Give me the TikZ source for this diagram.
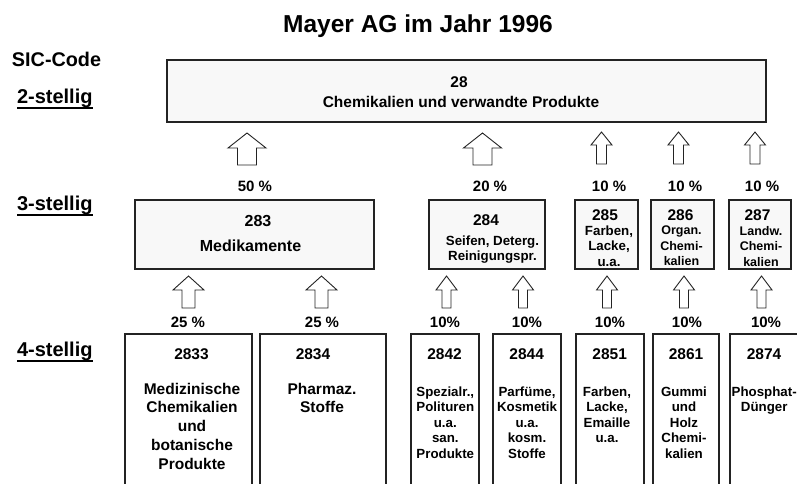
\documentclass[tikz,border=0pt]{standalone}
\usepackage{fontspec}
\setmainfont{Liberation Sans}
\definecolor{boxgray}{RGB}{248,248,248}
\definecolor{edge}{RGB}{35,35,35}
% bold text at a given size and line spacing
\newcommand\fs[2]{\fontsize{#1}{#2}\selectfont\bfseries}
% hollow block arrow pointing up:
% centre x, tip y, head base y, tail y, half head width, half shaft width
\newcommand\blockarrow[6]{%
  \draw[arr] (#1,#2) -- (#1+#5,#3) -- (#1+#6,#3) -- (#1+#6,#4)
    -- (#1-#6,#4) -- (#1-#6,#3) -- (#1-#5,#3) -- cycle;}
\begin{document}
\begin{tikzpicture}[x=1pt,y=-1pt,
  every node/.style={inner sep=0pt, outer sep=0pt},
  box/.style={draw=edge, line width=1.2pt, fill=boxgray, rectangle, anchor=north west},
  openbox/.style={rectangle, anchor=north west},
  side/.style={draw=edge, line width=1.2pt},
  arr/.style={draw=edge, line width=0.9pt, fill=white, line join=miter},
  level/.style={font=\fs{20}{22}, anchor=base west},
  uline/.style={draw=black, line width=1.6pt},
  pct/.style={font=\fs{15}{18}, anchor=base},
  num/.style={font=\fs{15.5}{18}, anchor=base},
  big/.style={font=\fs{15.5}{18.7}, anchor=north, align=center},
  small/.style={font=\fs{13.3}{15.5}, anchor=north, align=center},
  tiny/.style={font=\fs{12.5}{15.5}, anchor=north, align=center}]
\useasboundingbox (0,0) rectangle (797,483);

% heading and level labels
\node[font=\fs{24.5}{28}, anchor=base] (title) at (418,32) {Mayer AG im Jahr 1996};
\node[font=\fs{19.8}{22}, anchor=base west] (sic) at (12,66) {SIC-Code};
\node[level] (lv2) at (17,103) {2-stellig};
\node[level] (lv3) at (17,210) {3-stellig};
\node[level] (lv4) at (17,356) {4-stellig};
\foreach \l in {lv2,lv3,lv4}
  \draw[uline] ([yshift=-0.8pt]\l.south west) -- ([yshift=-0.8pt]\l.south east);

% two-digit level
\node[box, minimum width=599, minimum height=62] (b28) at (167,60) {};
\node[num] (t28) at (459,87) {28};
\node[num] (t28n) at (461,107) {Chemikalien und verwandte Produkte};

% arrows into the two-digit box
\blockarrow{247}{133}{148}{165}{19}{9.5}
\blockarrow{482.5}{133}{148}{165}{19}{9.5}
\blockarrow{601.5}{132}{145}{164}{10.5}{5}
\blockarrow{678.5}{132}{145}{164}{10.5}{5}
\blockarrow{755}{132}{145}{164}{10.5}{5}
\node[pct] (p283) at (255,191) {50 \%};
\node[pct] (p284) at (490,191) {20 \%};
\node[pct] (p285) at (609,191) {10 \%};
\node[pct] (p286) at (685,191) {10 \%};
\node[pct] (p287) at (762,191) {10 \%};

% three-digit level
\node[box, minimum width=239, minimum height=69] (b283) at (135,200) {};
\node[box, minimum width=116, minimum height=69] (b284) at (429,200) {};
\node[box, minimum width=63, minimum height=69] (b285) at (575,200) {};
\node[box, minimum width=63, minimum height=69] (b286) at (651,200) {};
\node[box, minimum width=62, minimum height=69] (b287) at (729,200) {};

\node[font=\fs{16}{18}, anchor=base] (t283) at (258,226) {283};
\node[font=\fs{16}{18}, anchor=base] (t283n) at (250.5,251) {Medikamente};
\node[num] (t284) at (486,225) {284};
\node[small] (t284n) at (492.5,245-9.5) {Seifen, Deterg.\\Reinigungspr.};
\node[num] (t285) at (605,220) {285};
\node[small] (t285n) at (609,235-9.5) {Farben,\\Lacke,\\u.a.};
\node[num] (t286) at (680.5,220) {286};
\node[tiny] (t286n) at (681.5,235-9) {Organ.\\Chemi-\\kalien};
\node[num] (t287) at (757.5,220) {287};
\node[tiny] (t287n) at (761,235-9) {Landw.\\Chemi-\\kalien};

% arrows into the three-digit boxes
\blockarrow{188.5}{276}{290}{308}{15.5}{6.5}
\blockarrow{321.5}{276}{290}{308}{15.5}{6.5}
\blockarrow{446.5}{276}{290}{308}{10.5}{4.5}
\blockarrow{523}{276}{290}{308}{10.5}{4.5}
\blockarrow{607}{276}{290}{308}{10.5}{4.5}
\blockarrow{684}{276}{290}{308}{10.5}{4.5}
\blockarrow{761.5}{276}{290}{308}{10.5}{4.5}
\node[pct] (p2833) at (188,327) {25 \%};
\node[pct] (p2834) at (322,327) {25 \%};
\node[pct] (p2842) at (445,327) {10\%};
\node[pct] (p2844) at (527,327) {10\%};
\node[pct] (p2851) at (610,327) {10\%};
\node[pct] (p2861) at (687,327) {10\%};
\node[pct] (p2874) at (766,327) {10\%};

% four-digit level: boxes run past the lower edge
\node[openbox, minimum width=127, minimum height=155] (b2833) at (125,334) {};
\node[openbox, minimum width=126, minimum height=155] (b2834) at (260,334) {};
\node[openbox, minimum width=68, minimum height=155] (b2842) at (411,334) {};
\node[openbox, minimum width=68, minimum height=155] (b2844) at (493,334) {};
\node[openbox, minimum width=68, minimum height=155] (b2851) at (576,334) {};
\node[openbox, minimum width=66, minimum height=155] (b2861) at (653,334) {};
\node[openbox, minimum width=69, minimum height=155] (b2874) at (730,334) {};
\foreach \b in {b2833,b2834,b2842,b2844,b2851,b2861,b2874}
  \draw[side] (\b.south west) -- (\b.north west) -- (\b.north east) -- (\b.south east);

\node[num] (t2833) at (191.5,359) {2833};
\node[big] (t2833n) at (192,394-11) {Medizinische\\Chemikalien\\und\\botanische\\Produkte};
\node[num] (t2834) at (313,359) {2834};
\node[big] (t2834n) at (322,394-11) {Pharmaz.\\Stoffe};
\node[num] (t2842) at (444.5,359) {2842};
\node[small] (t2842n) at (445.3,396-9.5) {Spezialr.,\\Polituren\\u.a.\\san.\\Produkte};
\node[num] (t2844) at (526.7,359) {2844};
\node[small] (t2844n) at (527,396-9.5) {Parfüme,\\Kosmetik\\u.a.\\kosm.\\Stoffe};
\node[num] (t2851) at (609.7,359) {2851};
\node[small] (t2851n) at (607,396-9.5) {Farben,\\Lacke,\\Emaille\\u.a.};
\node[num] (t2861) at (686,359) {2861};
\node[small] (t2861n) at (684,396-9.5) {Gummi\\und\\Holz\\Chemi-\\kalien};
\node[num] (t2874) at (764,359) {2874};
\node[small] (t2874n) at (764.2,396-9.5) {Phosphat-\\Dünger};
\end{tikzpicture}
\end{document}
